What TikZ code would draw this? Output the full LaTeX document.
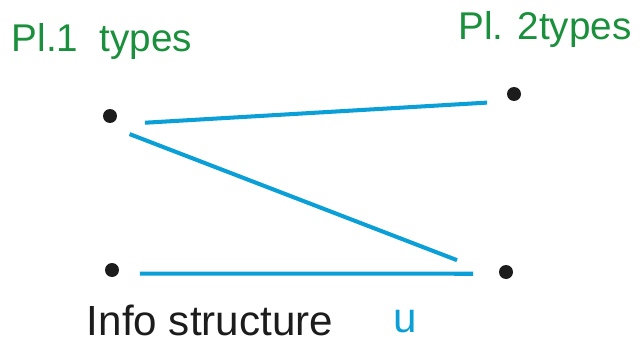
\documentclass[tikz,border=0pt]{standalone}
\usepackage{fontspec}
\setmainfont{Liberation Sans}
\usetikzlibrary{arrows.meta,positioning}
\definecolor{plgreen}{HTML}{1A8F3C}
\definecolor{edgeblue}{HTML}{0A9FD6}
\definecolor{inkblack}{HTML}{1C1C1C}

\begin{document}
\begin{tikzpicture}[x=0.02cm, y=-0.02cm,
  dot/.style={circle, fill=inkblack, inner sep=0pt, minimum size=0.28cm},
  lbl/.style={font=\fontsize{24}{28}\selectfont, inner sep=0pt},
  plbl/.style={lbl, font=\fontsize{22}{26}\selectfont, text=plgreen},
  link/.style={edgeblue, line width=2.3pt}
]
  \useasboundingbox (0,0) rectangle (643,345);
  \node[dot] (a1) at (110,116) {};
  \node[dot] (b1) at (514,94) {};
  \node[dot] (a2) at (112,270) {};
  \node[dot] (b2) at (506,272) {};
  \node[plbl] (pl1) at (102,42) {Pl.1 \ types};
  \node[plbl] (pl2) at (545,30) {Pl. 2types};
  \node[lbl, text=inkblack] (info) at (210,320) {Info structure};
  \node[lbl, text=edgeblue] (u) at (405,322) {u};
  \draw[link, shorten <=0.7cm, shorten >=0.54cm] ([yshift=-5pt]a1.center) -- ([yshift=-4pt]b1.center);
  \draw[link, shorten <=0.42cm, shorten >=1.05cm] ([yshift=-6pt]a1.center) -- ([yshift=-4pt]b2.center);
  \draw[link, shorten <=0.56cm, shorten >=0.66cm] ([yshift=-2pt]a2.center) -- ([yshift=-1pt]b2.center);
\end{tikzpicture}
\end{document}
